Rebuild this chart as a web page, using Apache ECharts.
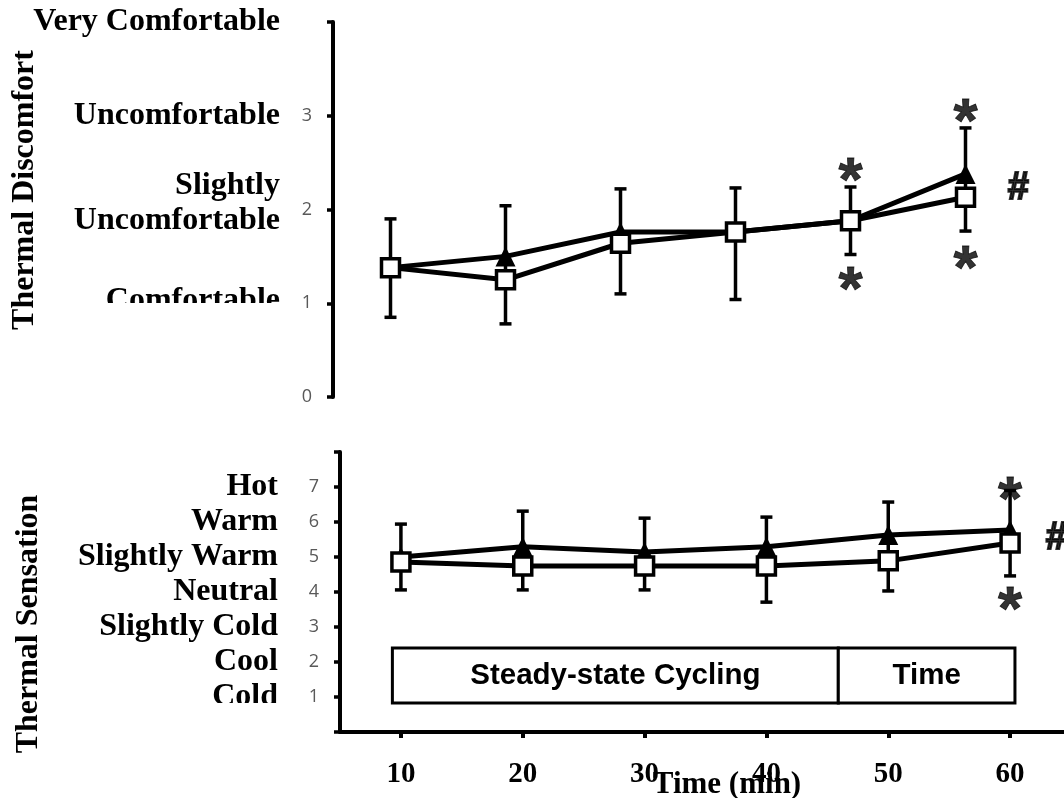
<!DOCTYPE html>
<html lang="en">
<head>
  <script src="https://cdn.jsdelivr.net/npm/echarts@6.0.0/dist/echarts.min.js"></script>
</head>
<body style="margin:0">
  <div id="thermalChart" style="width:1064px;height:798px;"></div>
  <script type="text/javascript">

    var minutes = [10, 20, 30, 40, 50, 60];

    // Thermal discomfort (upper panel)
    var discomfortTri = [1.38, 1.50, 1.76, 1.76, 1.88, 2.38];
    var discomfortSq = [1.38, 1.25, 1.64, 1.76, 1.88, 2.13];
    var discomfortErrHigh = [1.90, 2.04, 2.22, 2.23, 2.24, 2.87];
    var discomfortErrLow = [0.85, 0.78, 1.10, 1.04, 1.52, 1.77];
    var discomfortLabels = ['', 'Comfortable', 'Slightly\nUncomfortable', 'Uncomfortable', 'Very Comfortable'];
    var discomfortStars = [[50, 2.41], [50, 1.25], [60, 3.04], [60, 1.47]];
    var discomfortHash = [[64.6, 2.22]];

    // Thermal sensation (lower panel)
    var sensationTri = [5.00, 5.29, 5.14, 5.29, 5.63, 5.77];
    var sensationSq = [4.86, 4.74, 4.74, 4.74, 4.89, 5.40];
    var sensationErrHigh = [5.94, 6.31, 6.11, 6.14, 6.57, 6.90];
    var sensationErrLow = [4.06, 4.06, 4.06, 3.71, 4.03, 4.46];
    var sensationLabels = ['', 'Cold', 'Cool', 'Slightly Cold', 'Neutral', 'Slightly Warm', 'Warm', 'Hot'];
    var sensationStars = [[60, 6.91], [60, 3.76]];
    var sensationHash = [[63.8, 5.53]];

    // protocol phases drawn as boxes in the lower panel
    var phaseNames = ['Steady-state Cycling', 'Time'];
    var phaseFrom = [9.3, 45.9];
    var phaseTo = [45.9, 60.4];
    var phaseLow = 0.83;
    var phaseHigh = 2.4;

    var serif = 'Liberation Serif';
    var sans = 'Liberation Sans';

    function pairs(xs, ys) {
      return xs.map(function (x, i) { return [x, ys[i]]; });
    }

    function errorBar(params, api) {
      var x = api.value(0);
      var hi = api.coord([x, api.value(1)]);
      var lo = api.coord([x, api.value(2)]);
      var cap = 6;
      var st = { stroke: '#000', lineWidth: 3.5 };
      return {
        type: 'group',
        children: [
          { type: 'line', shape: { x1: hi[0], y1: hi[1], x2: lo[0], y2: lo[1] }, style: st },
          { type: 'line', shape: { x1: hi[0] - cap, y1: hi[1], x2: hi[0] + cap, y2: hi[1] }, style: st },
          { type: 'line', shape: { x1: lo[0] - cap, y1: lo[1], x2: lo[0] + cap, y2: lo[1] }, style: st }
        ]
      };
    }

    function numberAxis(grid, max, hidden) {
      return {
        type: 'value', gridIndex: grid, position: 'left', min: 0, max: max, interval: 1,
        axisLine: { show: true, lineStyle: { color: '#000', width: 4 } },
        axisTick: { show: true, length: 6, lineStyle: { color: '#000', width: 3.5 } },
        splitLine: { show: false },
        axisLabel: {
          margin: 21, color: '#595959', fontSize: 18, fontFamily: 'Open Sans',
          formatter: function (v) { return hidden.indexOf(v) >= 0 ? '' : String(v); }
        }
      };
    }

    function textAxis(grid, max, labels, margin) {
      var base = { fontFamily: serif, fontWeight: 'bold', fontSize: 32, color: '#000' };
      return {
        type: 'value', gridIndex: grid, position: 'left', offset: 0, min: 0, max: max, interval: 1,
        axisLine: { show: false }, axisTick: { show: false }, splitLine: { show: false },
        axisLabel: {
          margin: margin,
          formatter: function (v) {
            var t = labels[v] || '';
            if (!t) return '';
            if (t === 'Comfortable') return '{up|' + t + '}';
            if (t.indexOf('\n') >= 0) return '{two|' + t + '}';
            return '{n|' + t + '}';
          },
          rich: {
            n: base,
            up: Object.assign({ padding: [0, 0, 5, 0] }, base),
            two: Object.assign({ lineHeight: 35, padding: [0, 0, 12, 0] }, base)
          }
        }
      };
    }

    function markLabel(data, xIdx, yIdx, text, size, dy, border) {
      return {
        type: 'scatter', xAxisIndex: xIdx, yAxisIndex: yIdx, data: data,
        symbolSize: 0, silent: true, z: 6,
        label: {
          show: true, position: 'inside', offset: [0, dy],
          formatter: text, color: '#000', fontSize: size, fontWeight: 'bold', fontFamily: sans,
          textBorderColor: '#000', textBorderWidth: border
        }
      };
    }

    function lineSeries(xIdx, yIdx, data, symbol, filled, size, z) {
      return {
        type: 'line', xAxisIndex: xIdx, yAxisIndex: yIdx, data: data, z: z,
        symbol: symbol, symbolSize: size, showAllSymbol: true,
        lineStyle: { color: '#000', width: 5 },
        itemStyle: filled ? { color: '#000' } : { color: '#fff', borderColor: '#000', borderWidth: 3.5 }
      };
    }

    var phaseAreas = phaseNames.map(function (n, i) {
      return [{ name: n, xAxis: phaseFrom[i], yAxis: phaseHigh }, { xAxis: phaseTo[i], yAxis: phaseLow }];
    });

    var chart = echarts.init(document.getElementById('thermalChart'));

    var option = {
      animation: false,
      backgroundColor: '#fff',
      grid: [
        { left: 333, top: 22, width: 690, height: 375, outerBoundsMode: 'none', containLabel: false },
        { left: 340, top: 452, width: 731, height: 280, outerBoundsMode: 'none', containLabel: false }
      ],
      xAxis: [
        { type: 'value', gridIndex: 0, min: 5, max: 65, show: false },
        {
          type: 'value', gridIndex: 1, min: 5, max: 65,
          axisLine: { show: true, lineStyle: { color: '#000', width: 4 } },
          axisTick: { show: true, length: 6, customValues: minutes, lineStyle: { color: '#000', width: 4 } },
          splitLine: { show: false },
          axisLabel: {
            customValues: minutes, margin: 20, color: '#000',
            fontFamily: serif, fontWeight: 'bold', fontSize: 29
          }
        }
      ],
      yAxis: [
        numberAxis(0, 4, [4]),
        textAxis(0, 4, discomfortLabels, 53),
        numberAxis(1, 8, [0, 8]),
        textAxis(1, 8, sensationLabels, 62)
      ],
      graphic: [
        // the reference crops the bottom of the lowest category words
        { type: 'rect', z: 100, shape: { x: 90, y: 303, width: 195, height: 14 }, style: { fill: '#fff' } },
        { type: 'rect', z: 100, shape: { x: 200, y: 703, width: 90, height: 14 }, style: { fill: '#fff' } },
        {
          type: 'text', x: 25, y: 190, rotation: Math.PI / 2, z: 101,
          style: { text: 'Thermal Discomfort', align: 'center', verticalAlign: 'middle', fill: '#000',
            fontFamily: serif, fontWeight: 'bold', fontSize: 32 }
        },
        {
          type: 'text', x: 29, y: 624, rotation: Math.PI / 2, z: 101,
          style: { text: 'Thermal Sensation', align: 'center', verticalAlign: 'middle', fill: '#000',
            fontFamily: serif, fontWeight: 'bold', fontSize: 32 }
        },
        {
          type: 'text', x: 727, y: 785, z: 101,
          style: { text: 'Time (min)', align: 'center', verticalAlign: 'middle', fill: '#000',
            fontFamily: serif, fontWeight: 'bold', fontSize: 31 }
        }
      ],
      series: [
        {
          type: 'custom', xAxisIndex: 0, yAxisIndex: 0, z: 1,
          data: minutes.map(function (m, i) { return [m, discomfortErrHigh[i], discomfortErrLow[i]]; }),
          renderItem: errorBar
        },
        lineSeries(0, 0, pairs(minutes, discomfortTri), 'triangle', true, 20, 2),
        lineSeries(0, 0, pairs(minutes, discomfortSq), 'rect', false, 18, 3),
        markLabel(discomfortStars, 0, 0, '*', 62, 12, 0.8),
        markLabel(discomfortHash, 0, 0, '#', 38, 0, 2),

        {
          type: 'custom', xAxisIndex: 1, yAxisIndex: 2, z: 1,
          data: minutes.map(function (m, i) { return [m, sensationErrHigh[i], sensationErrLow[i]]; }),
          renderItem: errorBar
        },
        lineSeries(1, 2, pairs(minutes, sensationTri), 'triangle', true, 20, 2),
        lineSeries(1, 2, pairs(minutes, sensationSq), 'rect', false, 18, 3),
        markLabel(sensationStars, 1, 2, '*', 62, 12, 0.8),
        markLabel(sensationHash, 1, 2, '#', 38, 0, 2),
        {
          type: 'line', xAxisIndex: 1, yAxisIndex: 2, data: [], silent: true,
          markArea: {
            silent: true,
            itemStyle: { color: '#fff', borderColor: '#000', borderWidth: 3 },
            label: { show: true, position: 'inside', color: '#000', fontFamily: sans, fontWeight: 'bold', fontSize: 29.5 },
            data: phaseAreas
          }
        }
      ]
    };

    chart.setOption(option);
  </script>
</body>
</html>
